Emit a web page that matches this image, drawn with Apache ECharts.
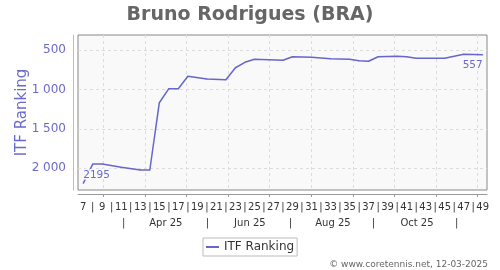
<!DOCTYPE html>
<html><head><meta charset="utf-8">
<script src="https://cdn.jsdelivr.net/npm/echarts@6/dist/echarts.min.js"></script>
<style>html,body{margin:0;padding:0;background:#fff}#c{width:500px;height:270px}</style>
</head><body><div id="c"></div>
<script>
// week numbers (ISO week of 2025) and ITF ranking
const weeks  = [7, 8, 9, 11, 13, 14, 15, 16, 17, 18, 20, 22, 23, 24, 25, 28, 29, 31, 33, 35, 36, 37, 38, 40, 41, 42, 45, 47, 49];
const ranks  = [2195, 1950, 1950, 1991, 2025, 2025, 1168, 989, 989, 831, 866, 875, 722, 653, 615, 627, 582, 589, 607, 615, 633, 640, 582, 576, 582, 602, 602, 550, 557];
const weekTicks = [7,8,9,10,11,12,13,14,15,16,17,18,19,20,21,22,23,24,25,26,27,28,29,30,31,32,33,34,35,36,37,38,39,40,41,42,43,44,45,46,47,48,49];
const monthStarts = [9.08, 13.51, 17.8, 22.23, 26.55, 30.97, 35.39, 39.74, 44.12, 48.43];
const monthLabelPos = [15.68, 24.52, 33.25, 42.09];
const monthLabels = ['Apr 25', 'Jun 25', 'Aug 25', 'Oct 25'];
const monthSeps = [11.26, 20.05, 28.78, 37.52, 46.26];
const yTicks = [500, 1000, 1500, 2000];
const titleText = 'Bruno Rodrigues (BRA)';
const seriesName = 'ITF Ranking';
const credit = '\u00A9 www.coretennis.net, 12-03-2025';

const FONT = 'DejaVu Sans';
const chart = echarts.init(document.getElementById('c'), null, {renderer: 'canvas'});

const data = weeks.map((w, i) => {
  const item = {value: [w, ranks[i]]};
  if (i === 0) item.label = {show: true, position: 'top', align: 'left', distance: 2};
  if (i === weeks.length - 1) item.label = {show: true, position: 'bottom', align: 'right', distance: 4};
  return item;
});

const month2Vals = monthSeps.concat(monthLabelPos);

chart.setOption({
  animation: false,
  textStyle: {fontFamily: FONT},
  title: {text: titleText, left: 'center', top: 1,
    textStyle: {fontFamily: FONT, fontSize: 19, fontWeight: 'bold', color: '#666'}},
  grid: {left: 78, right: 13, top: 35, bottom: 80, show: true, backgroundColor: '#f9f9f9',
    borderColor: '#888', borderWidth: 1, containLabel: false},
  legend: {left: 203, top: 238, padding: [3, 3], borderColor: '#bbb', borderWidth: 1, borderRadius: 0,
    itemWidth: 13, itemHeight: 2, icon: 'rect', itemGap: 5,
    textStyle: {fontFamily: FONT, fontSize: 12, color: '#333'}, data: [seriesName]},
  xAxis: [{
    type: 'value', min: 6.45, max: 49.45, position: 'bottom', offset: 4,
    axisLine: {show: true, lineStyle: {color: '#999'}},
    axisTick: {show: true, length: 3, customValues: monthStarts, lineStyle: {color: '#999'}},
    splitLine: {show: true, lineStyle: {type: [3, 3], color: '#dcdcdc'}},
    axisLabel: {customValues: weekTicks, margin: 8, fontFamily: FONT, fontSize: 10, color: '#333',
      formatter: v => (Math.round(v) % 2 === 1 ? String(Math.round(v)) : '|')}
  }, {
    type: 'value', min: 6.45, max: 49.45, position: 'bottom', offset: 4,
    axisLine: {show: false}, axisTick: {show: false}, splitLine: {show: false},
    axisLabel: {customValues: month2Vals, margin: 24, fontFamily: FONT, fontSize: 10, color: '#333',
      formatter: v => {
        const k = monthLabelPos.indexOf(v);
        return k >= 0 ? monthLabels[k] : '|';
      }}
  }],
  yAxis: {
    type: 'value', inverse: true, min: 305, max: 2280, offset: 5,
    name: seriesName, nameLocation: 'middle', nameGap: 43, nameMoveOverlap: false,
    nameTextStyle: {fontFamily: FONT, fontSize: 15, color: '#6a6acc'},
    axisLine: {show: true, lineStyle: {color: '#b8b8e6'}},
    axisTick: {show: false, customValues: yTicks},
    splitLine: {show: true, lineStyle: {type: [3, 3], color: '#dcdcdc'}},
    axisLabel: {customValues: yTicks, margin: 7, fontFamily: FONT, fontSize: 12, color: '#6a6acc',
      formatter: v => String(v).replace(/\B(?=(\d{3})+(?!\d))/g, ' ')}
  },
  series: [{
    name: seriesName, type: 'line', data: data, showSymbol: true, symbol: 'circle', symbolSize: 1,
    color: '#6666cc',
    itemStyle: {color: '#6666cc'},
    lineStyle: {width: 1.5, color: '#6666cc'},
    label: {show: false, fontFamily: FONT, fontSize: 10.5, color: '#6a6acc',
      textBorderColor: '#f9f9f9', textBorderWidth: 3, formatter: p => String(p.value[1])},
    labelLayout: {hideOverlap: false},
    emphasis: {disabled: true}, z: 3
  }],
  graphic: [{type: 'text', right: 12, top: 260,
    style: {text: credit, fontFamily: FONT, fontSize: 9, fill: '#666'}}]
});
</script></body></html>
